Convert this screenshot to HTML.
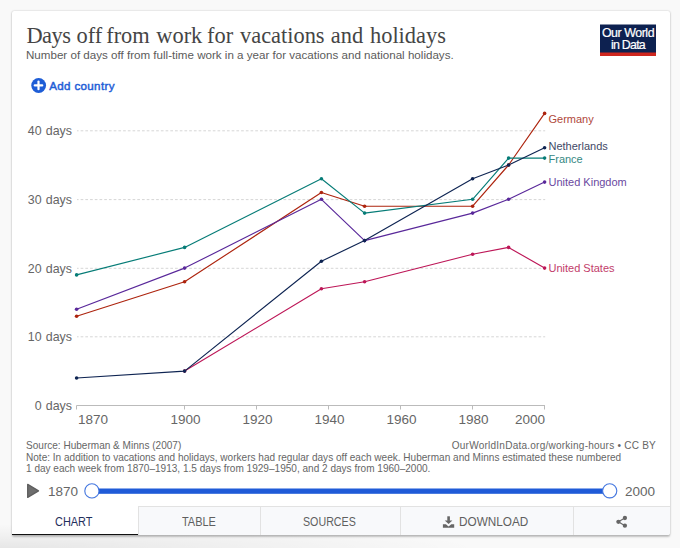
<!DOCTYPE html>
<html><head><meta charset="utf-8">
<style>
html,body{margin:0;padding:0;}
body{width:680px;height:548px;overflow:hidden;background:#f9f9f9;position:relative;font-family:"Liberation Sans",sans-serif;}
.shade{position:absolute;left:0;top:520px;width:680px;height:28px;background:radial-gradient(ellipse 480px 24px at 0 100%,rgba(0,0,0,0.075),rgba(0,0,0,0.035) 50%,rgba(0,0,0,0) 100%);}
.card{position:absolute;left:12px;top:10.5px;width:658px;height:524.5px;background:#fff;border-radius:2px;box-shadow:0 0 2px rgba(0,0,0,0.2),0 1.5px 2px rgba(0,0,0,0.22);}
.t{position:absolute;white-space:nowrap;line-height:1;}
#title{left:0;top:25px;font-family:"Liberation Serif",serif;font-size:22.4px;color:#454545;}
#title span{position:absolute;top:0;}
#sub{left:26px;top:49px;font-size:11.6px;color:#5b5b5b;}
#add{left:49.2px;top:80px;font-size:11.6px;color:#1e5dd6;-webkit-text-stroke:0.45px #1e5dd6;letter-spacing:0.34px;}
.ylab{font-size:12.4px;color:#666;text-align:right;right:608px;word-spacing:0.8px;}
.xlab{font-size:13.5px;color:#666;}
.lab{font-size:11px;}
#notes{left:26px;top:440.1px;font-size:10.05px;line-height:11.4px;color:#666;}
#url{right:24px;top:440.5px;font-size:10.05px;color:#666;letter-spacing:0.22px;}
.tab{position:absolute;top:506px;height:29px;background:#f8f9fb;border-top:1px solid #e2e2e2;border-left:1px solid #e2e2e2;box-sizing:border-box;}
.tt{top:516.1px;font-size:12px;color:#5f5f5f;transform-origin:0 0;}
</style></head><body>
<div class="shade"></div>
<div class="card"></div>
<div class="t" id="title"><span style="left:26.4px;letter-spacing:-0.5px">Days</span><span style="left:76.6px">off</span><span style="left:106.2px">from</span><span style="left:156.3px">work</span><span style="left:207px">for</span><span style="left:240.0px">vacations</span><span style="left:330.8px">and</span><span style="left:370px">holidays</span></div>
<div class="t" id="sub">Number of days off from full-time work in a year for vacations and national holidays.</div>

<svg style="position:absolute;left:0;top:0" width="680" height="548" viewBox="0 0 680 548">
  <!-- logo -->
  <rect x="600" y="24.5" width="56" height="31.5" fill="#0d2150"/>
  <rect x="600" y="52.5" width="56" height="3.5" fill="#ce261e"/>
  <!-- add icon -->
  <circle cx="38.65" cy="85.5" r="7.4" fill="#1e5dd6"/>
  <line x1="38.5" y1="81.6" x2="38.5" y2="89.2" stroke="#fff" stroke-width="2.2" stroke-linecap="round"/>
  <line x1="34.8" y1="85.4" x2="42.2" y2="85.4" stroke="#fff" stroke-width="2.3" stroke-linecap="round"/>
  <!-- grid -->
  <g stroke="#d6d6d6" stroke-width="1" stroke-dasharray="2.7,2.02" stroke-dashoffset="1.1">
    <line x1="77" y1="130.8" x2="545.2" y2="130.8"/>
    <line x1="77" y1="199.6" x2="545.2" y2="199.6"/>
    <line x1="77" y1="268.3" x2="545.2" y2="268.3"/>
    <line x1="77" y1="336.8" x2="545.2" y2="336.8"/>
  </g>
  <!-- axis -->
  <g stroke="#bbb" stroke-width="1" fill="none">
    <line x1="76.5" y1="405.5" x2="545" y2="405.5"/>
    <line x1="76.5" y1="405.5" x2="76.5" y2="409.5"/>
    <line x1="184.5" y1="405.5" x2="184.5" y2="409.5"/>
    <line x1="256.5" y1="405.5" x2="256.5" y2="409.5"/>
    <line x1="328.5" y1="405.5" x2="328.5" y2="409.5"/>
    <line x1="400.5" y1="405.5" x2="400.5" y2="409.5"/>
    <line x1="472.5" y1="405.5" x2="472.5" y2="409.5"/>
    <line x1="544.5" y1="405.5" x2="544.5" y2="409.5"/>
  </g>
  <!-- lines -->
  <g fill="none" stroke-width="1.15" stroke-linejoin="round">
    <polyline stroke="#ad240e" points="76.6,316.2 184.6,281.8 321.4,192.5 364.6,206.2 472.6,206.2 508.6,165.0 544.6,113.4"/>
    <polyline stroke="#bd1657" points="184.6,371.1 321.4,288.7 364.6,281.8 472.6,254.3 508.6,247.4 544.6,268.1"/>
    <polyline stroke="#59289a" points="76.6,309.3 184.6,268.1 321.4,199.3 364.6,240.6 472.6,213.1 508.6,199.3 544.6,182.1"/>
    <polyline stroke="#067c77" points="76.6,274.9 184.6,247.4 321.4,178.7 364.6,213.1 472.6,199.3 508.6,158.1 544.6,158.1"/>
    <polyline stroke="#0e2452" points="76.6,378.0 184.6,371.1 321.4,261.2 364.6,240.6 472.6,178.7 508.6,165.0 544.6,147.8"/>
  </g>
  <g fill="#ad240e"><circle cx="76.6" cy="316.2" r="1.8"/><circle cx="184.6" cy="281.8" r="1.8"/><circle cx="321.4" cy="192.5" r="1.8"/><circle cx="364.6" cy="206.2" r="1.8"/><circle cx="472.6" cy="206.2" r="1.8"/><circle cx="508.6" cy="165.0" r="1.8"/><circle cx="544.6" cy="113.4" r="1.8"/></g>
  <g fill="#bd1657"><circle cx="184.6" cy="371.1" r="1.8"/><circle cx="321.4" cy="288.7" r="1.8"/><circle cx="364.6" cy="281.8" r="1.8"/><circle cx="472.6" cy="254.3" r="1.8"/><circle cx="508.6" cy="247.4" r="1.8"/><circle cx="544.6" cy="268.1" r="1.8"/></g>
  <g fill="#59289a"><circle cx="76.6" cy="309.3" r="1.8"/><circle cx="184.6" cy="268.1" r="1.8"/><circle cx="321.4" cy="199.3" r="1.8"/><circle cx="364.6" cy="240.6" r="1.8"/><circle cx="472.6" cy="213.1" r="1.8"/><circle cx="508.6" cy="199.3" r="1.8"/><circle cx="544.6" cy="182.1" r="1.8"/></g>
  <g fill="#067c77"><circle cx="76.6" cy="274.9" r="1.8"/><circle cx="184.6" cy="247.4" r="1.8"/><circle cx="321.4" cy="178.7" r="1.8"/><circle cx="364.6" cy="213.1" r="1.8"/><circle cx="472.6" cy="199.3" r="1.8"/><circle cx="508.6" cy="158.1" r="1.8"/><circle cx="544.6" cy="158.1" r="1.8"/></g>
  <g fill="#0e2452"><circle cx="76.6" cy="378.0" r="1.8"/><circle cx="184.6" cy="371.1" r="1.8"/><circle cx="321.4" cy="261.2" r="1.8"/><circle cx="364.6" cy="240.6" r="1.8"/><circle cx="472.6" cy="178.7" r="1.8"/><circle cx="508.6" cy="165.0" r="1.8"/><circle cx="544.6" cy="147.8" r="1.8"/></g>
  <!-- slider -->
  <rect x="92" y="488.5" width="518" height="5.3" fill="#1f5bd8"/>
  <circle cx="92" cy="491.4" r="7.6" fill="rgba(0,0,0,0.05)"/>
  <circle cx="91.9" cy="490.9" r="7.1" fill="#fff" stroke="#4477e0" stroke-width="1.1"/>
  <circle cx="609.8" cy="491.3" r="7.6" fill="rgba(0,0,0,0.05)"/>
  <circle cx="609.7" cy="490.8" r="7.1" fill="#fff" stroke="#4477e0" stroke-width="1.1"/>
  <path d="M27.7,484.3 L38.5,490.85 L27.7,497.4 Z" fill="#6e6e6e" stroke="#5e5e5e" stroke-width="1.3" stroke-linejoin="round"/>
</svg>

<div class="t" style="left:600px;width:56px;text-align:center;top:27px;font-size:12.4px;letter-spacing:-0.45px;color:#fff;-webkit-text-stroke:0.2px #fff;">Our World</div>
<div class="t" style="left:600px;width:56px;text-align:center;top:38.6px;font-size:12.4px;letter-spacing:-0.75px;color:#fff;-webkit-text-stroke:0.2px #fff;">in Data</div>
<div class="t" id="add">Add country</div>

<div class="t ylab" style="top:125px">40 days</div>
<div class="t ylab" style="top:194px">30 days</div>
<div class="t ylab" style="top:263px">20 days</div>
<div class="t ylab" style="top:331px">10 days</div>
<div class="t ylab" style="top:400px">0 days</div>

<div class="t xlab" style="left:78px;top:412.5px">1870</div>
<div class="t xlab" style="left:170.5px;top:412.5px">1900</div>
<div class="t xlab" style="left:242.5px;top:412.5px">1920</div>
<div class="t xlab" style="left:314.5px;top:412.5px">1940</div>
<div class="t xlab" style="left:386.5px;top:412.5px">1960</div>
<div class="t xlab" style="left:458.5px;top:412.5px">1980</div>
<div class="t xlab" style="left:515px;top:412.5px">2000</div>

<div class="t lab" style="left:548.5px;top:114px;color:#b0483a">Germany</div>
<div class="t lab" style="left:548.5px;top:141.3px;color:#3f4966">Netherlands</div>
<div class="t lab" style="left:548.5px;top:153.7px;color:#368883">France</div>
<div class="t lab" style="left:548.5px;top:177px;color:#6a48a0">United Kingdom</div>
<div class="t lab" style="left:548.5px;top:263px;color:#c23c6a">United States</div>

<div class="t" id="notes">Source: Huberman &amp; Minns (2007)<br>Note: In addition to vacations and holidays, workers had regular days off each week. Huberman and Minns estimated these numbered<br>1 day each week from 1870–1913, 1.5 days from 1929–1950, and 2 days from 1960–2000.</div>
<div class="t" id="url">OurWorldInData.org/working-hours • CC BY</div>

<div class="t xlab" style="left:48px;top:485px">1870</div>
<div class="t xlab" style="left:625px;top:485px">2000</div>

<div class="tab" style="left:12px;width:126px;background:#fff;border:none;border-bottom:1.5px solid #111;"></div>
<div class="tab" style="left:138px;width:122px;"></div>
<div class="tab" style="left:259.5px;width:140.5px;"></div>
<div class="tab" style="left:400px;width:173px;"></div>
<div class="tab" style="left:573px;width:97px;border-radius:0 0 3px 0;"></div>
<div class="t tt" style="left:55.3px;transform:scaleX(0.91);color:#1f2f5c">CHART</div>
<div class="t tt" style="left:181.6px;transform:scaleX(0.91)">TABLE</div>
<div class="t tt" style="left:302.9px;transform:scaleX(0.89)">SOURCES</div>
<div class="t tt" style="left:459.2px;transform:scaleX(0.98)">DOWNLOAD</div>
<svg style="position:absolute;left:0;top:0" width="680" height="548" viewBox="0 0 680 548">
  <!-- download icon -->
  <g fill="#666">
    <rect x="447.3" y="516.3" width="2.6" height="4.6"/>
    <path d="M444.8,520.5 L452.4,520.5 L448.6,524.1 Z"/>
    <path d="M442.9,524.2 L445.9,524.2 L448.6,526.4 L451.3,524.2 L454.2,524.2 L454.2,527.7 L442.9,527.7 Z"/>
  </g>
  <!-- share icon -->
  <g fill="#666" stroke="#666">
    <line x1="618.4" y1="521.8" x2="624.9" y2="518" stroke-width="1.1"/>
    <line x1="618.4" y1="521.8" x2="624.9" y2="525.7" stroke-width="1.1"/>
    <circle cx="618.4" cy="521.8" r="2.15" stroke="none"/>
    <circle cx="624.9" cy="518" r="2.15" stroke="none"/>
    <circle cx="624.9" cy="525.7" r="2.15" stroke="none"/>
  </g>
</svg>
</body></html>
